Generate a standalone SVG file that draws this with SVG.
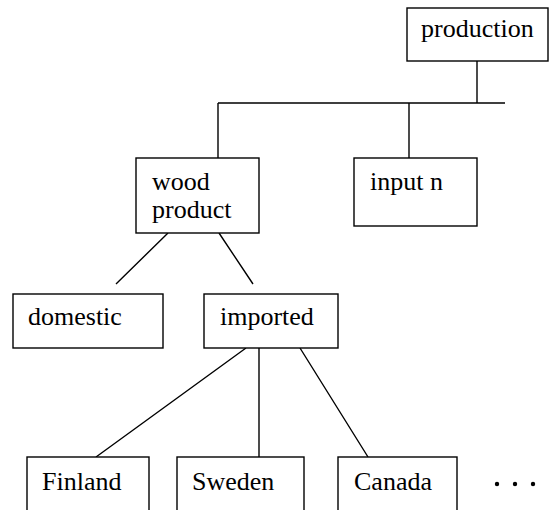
<svg xmlns="http://www.w3.org/2000/svg" width="550" height="510" viewBox="0 0 550 510">
  <style>
    .box { fill: #ffffff; stroke: #000000; stroke-width: 1.4; }
    .lbl { font-family: "Liberation Serif", "Times New Roman", serif; font-size: 26px; fill: #000000; }
    .edge { fill: none; stroke: #000000; stroke-width: 1.4; }
  </style>
  <rect width="550" height="510" fill="#ffffff"/>

  <!-- connectors -->
  <g id="connectors">
    <path class="edge" d="M477 61 V103 M218 103 H505 M218 103 V158 M409 103 V158"/>
    <path class="edge" d="M168 233 L116 284 M219 233 L253 284"/>
    <path class="edge" d="M246 348 L96 457 M259 348 V457 M300 348 L368 457"/>
  </g>

  <!-- nodes -->
  <g id="production">
    <rect class="box" x="407" y="8" width="141" height="53"/>
    <text class="lbl" x="421" y="37">production</text>
  </g>
  <g id="wood-product">
    <rect class="box" x="136" y="158" width="123" height="75"/>
    <text class="lbl" x="152" y="190">wood</text>
    <text class="lbl" x="152" y="218">product</text>
  </g>
  <g id="input-n">
    <rect class="box" x="354" y="158" width="123" height="68"/>
    <text class="lbl" x="370" y="190">input n</text>
  </g>
  <g id="domestic">
    <rect class="box" x="13" y="294" width="150" height="54"/>
    <text class="lbl" x="28" y="325">domestic</text>
  </g>
  <g id="imported">
    <rect class="box" x="204" y="294" width="134" height="54"/>
    <text class="lbl" x="220" y="325">imported</text>
  </g>
  <g id="finland">
    <rect class="box" x="27" y="457" width="122" height="60"/>
    <text class="lbl" x="42" y="490">Finland</text>
  </g>
  <g id="sweden">
    <rect class="box" x="177" y="457" width="127" height="60"/>
    <text class="lbl" x="192" y="490">Sweden</text>
  </g>
  <g id="canada">
    <rect class="box" x="338" y="457" width="119" height="60"/>
    <text class="lbl" x="354" y="490">Canada</text>
  </g>
  <g id="more">
    <circle cx="497" cy="484" r="2.2" fill="#000000"/>
    <circle cx="515" cy="484" r="2.2" fill="#000000"/>
    <circle cx="533" cy="484" r="2.2" fill="#000000"/>
  </g>
</svg>
